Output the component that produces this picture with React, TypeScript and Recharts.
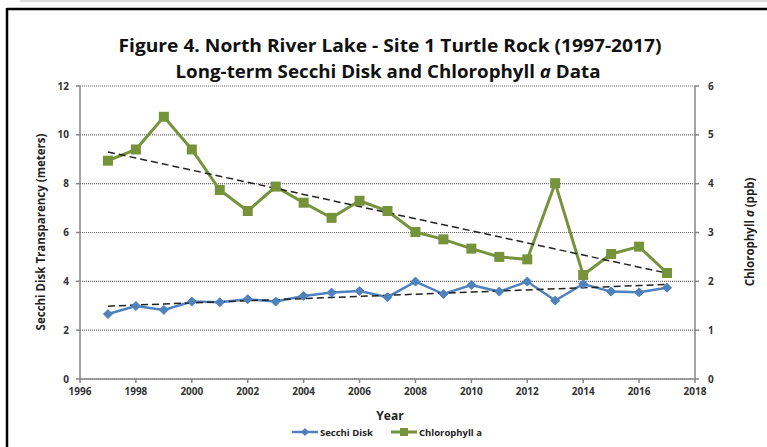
import React from 'react';
import { ComposedChart, Line, XAxis, YAxis, CartesianGrid } from 'recharts';

const years = [1997, 1998, 1999, 2000, 2001, 2002, 2003, 2004, 2005, 2006, 2007, 2008, 2009, 2010, 2011, 2012, 2013, 2014, 2015, 2016, 2017];
const secchi = [2.66, 2.99, 2.83, 3.17, 3.14, 3.27, 3.17, 3.40, 3.54, 3.60, 3.35, 3.99, 3.48, 3.85, 3.58, 3.99, 3.21, 3.89, 3.58, 3.55, 3.74];
const chlorophyll = [4.47, 4.70, 5.37, 4.70, 3.87, 3.44, 3.94, 3.61, 3.30, 3.65, 3.44, 3.01, 2.86, 2.67, 2.50, 2.45, 4.01, 2.13, 2.56, 2.71, 2.17];
const xTicks = [1996, 1998, 2000, 2002, 2004, 2006, 2008, 2010, 2012, 2014, 2016, 2018];
const leftTicks = [0, 2, 4, 6, 8, 10, 12];
const rightTicks = [0, 1, 2, 3, 4, 5, 6];

const BLUE = '#4F81BD';
const GREEN = '#76933C';
const AXIS = '#868686';
const FONT = '"Open Sans", "Noto Sans", sans-serif';

function linearFit(xs: number[], ys: number[]) {
  const n = xs.length;
  const mx = xs.reduce((a, b) => a + b, 0) / n;
  const my = ys.reduce((a, b) => a + b, 0) / n;
  let sxy = 0;
  let sxx = 0;
  for (let i = 0; i < n; i++) {
    sxy += (xs[i] - mx) * (ys[i] - my);
    sxx += (xs[i] - mx) * (xs[i] - mx);
  }
  const slope = sxy / sxx;
  return (x: number) => my + slope * (x - mx);
}

const secFit = linearFit(years, secchi);
const chlFit = linearFit(years, chlorophyll);

const data = years.map((y, i) => ({
  year: y,
  secchi: secchi[i],
  chl: chlorophyll[i],
  secTrend: secFit(y),
  chlTrend: chlFit(y),
}));

const Diamond = (props: any) => {
  const { cx, cy, index } = props;
  if (cx == null || cy == null) return <g key={`d${index}`} />;
  const r = 4.5;
  return (
    <path
      key={`d${index}`}
      d={`M${cx},${cy - r} L${cx + r},${cy} L${cx},${cy + r} L${cx - r},${cy} Z`}
      fill={BLUE}
      stroke={BLUE}
      strokeWidth={1}
    />
  );
};

const Square = (props: any) => {
  const { cx, cy, index } = props;
  if (cx == null || cy == null) return <g key={`s${index}`} />;
  const h = 5;
  return <rect key={`s${index}`} x={cx - h} y={cy - h} width={2 * h} height={2 * h} fill={GREEN} />;
};

const tickStyle = { fill: '#333', fontSize: 10, fontWeight: 700, fontFamily: FONT };

export default function App() {
  return (
    <div style={{ position: 'absolute', left: 0, top: 0, width: 767, height: 447, background: '#fff', overflow: 'hidden' }}>
      <ComposedChart
        width={767}
        height={447}
        data={data}
        margin={{ top: 86, right: 32, bottom: 48, left: 40 }}
      >
        <CartesianGrid
          yAxisId="left"
          horizontal={true}
          vertical={false}
          stroke="#666"
          strokeWidth={1.2}
          strokeDasharray="1 1"
        />
        <XAxis
          dataKey="year"
          type="number"
          domain={[1996, 2018]}
          ticks={xTicks}
          interval={0}
          height={20}
          stroke={AXIS}
          strokeWidth={1.5}
          tickSize={4}
          tickMargin={5}
          tick={tickStyle}
        />
        <YAxis
          yAxisId="left"
          orientation="left"
          domain={[0, 12]}
          ticks={leftTicks}
          interval={0}
          width={40}
          stroke={AXIS}
          strokeWidth={1.5}
          tickSize={4}
          tickMargin={7}
          tick={tickStyle}
        />
        <YAxis
          yAxisId="right"
          orientation="right"
          domain={[0, 6]}
          ticks={rightTicks}
          interval={0}
          width={40}
          stroke={AXIS}
          strokeWidth={1.5}
          tickSize={4}
          tickMargin={9}
          tick={tickStyle}
        />
        <Line
          yAxisId="left"
          dataKey="secchi"
          stroke={BLUE}
          strokeWidth={2.5}
          dot={Diamond}
          activeDot={false}
          isAnimationActive={false}
        />
        <Line
          yAxisId="right"
          dataKey="chl"
          stroke={GREEN}
          strokeWidth={3}
          dot={Square}
          activeDot={false}
          isAnimationActive={false}
        />
        <Line
          yAxisId="left"
          dataKey="secTrend"
          stroke="#222"
          strokeWidth={1.5}
          strokeDasharray="7 4"
          dot={false}
          activeDot={false}
          isAnimationActive={false}
        />
        <Line
          yAxisId="right"
          dataKey="chlTrend"
          stroke="#222"
          strokeWidth={1.5}
          strokeDasharray="7 4"
          dot={false}
          activeDot={false}
          isAnimationActive={false}
        />
      </ComposedChart>
      <svg
        width={767}
        height={447}
        style={{ position: 'absolute', left: 0, top: 0, pointerEvents: 'none' }}
      >
        <line x1={20} y1={1} x2={767} y2={1} stroke="#bbb" strokeWidth={1} />
        <line x1={7} y1={9} x2={767} y2={9} stroke="#000" strokeWidth={2.5} />
        <line x1={7} y1={8} x2={7} y2={447} stroke="#000" strokeWidth={2.5} />
        <text x={390} y={52} textAnchor="middle" fontFamily={FONT} fontWeight={700} fontSize={18.5} fill="#111" textLength={543} lengthAdjust="spacingAndGlyphs">
          Figure 4. North River Lake - Site 1 Turtle Rock (1997-2017)
        </text>
        <text x={388} y={78} textAnchor="middle" fontFamily={FONT} fontWeight={700} fontSize={18.5} fill="#111" textLength={425} lengthAdjust="spacingAndGlyphs">
          Long-term Secchi Disk and Chlorophyll <tspan fontStyle="italic">a</tspan> Data
        </text>
        <text transform="translate(45,232) rotate(-90)" textAnchor="middle" fontFamily={FONT} fontWeight={700} fontSize={11.5} fill="#222">
          Secchi Disk Transparency (meters)
        </text>
        <text transform="translate(754,232) rotate(-90)" textAnchor="middle" fontFamily={FONT} fontWeight={700} fontSize={11.5} fill="#222">
          Chlorophyll <tspan fontStyle="italic">a</tspan> (ppb)
        </text>
        <text x={390} y={420} textAnchor="middle" fontFamily={FONT} fontWeight={700} fontSize={12} fill="#222">
          Year
        </text>
        <g>
          <line x1={292} y1={432} x2={318} y2={432} stroke={BLUE} strokeWidth={2.5} />
          <path d="M305,428 L309,432 L305,436 L301,432 Z" fill={BLUE} />
          <text x={320} y={435.5} fontFamily={FONT} fontWeight={700} fontSize={9.5} fill="#222">Secchi Disk</text>
          <line x1={391} y1={432} x2={417} y2={432} stroke={GREEN} strokeWidth={3} />
          <rect x={400} y={428} width={8} height={8} fill={GREEN} />
          <text x={419} y={435.5} fontFamily={FONT} fontWeight={700} fontSize={9.5} fill="#222">Chlorophyll a</text>
        </g>
      </svg>
    </div>
  );
}
